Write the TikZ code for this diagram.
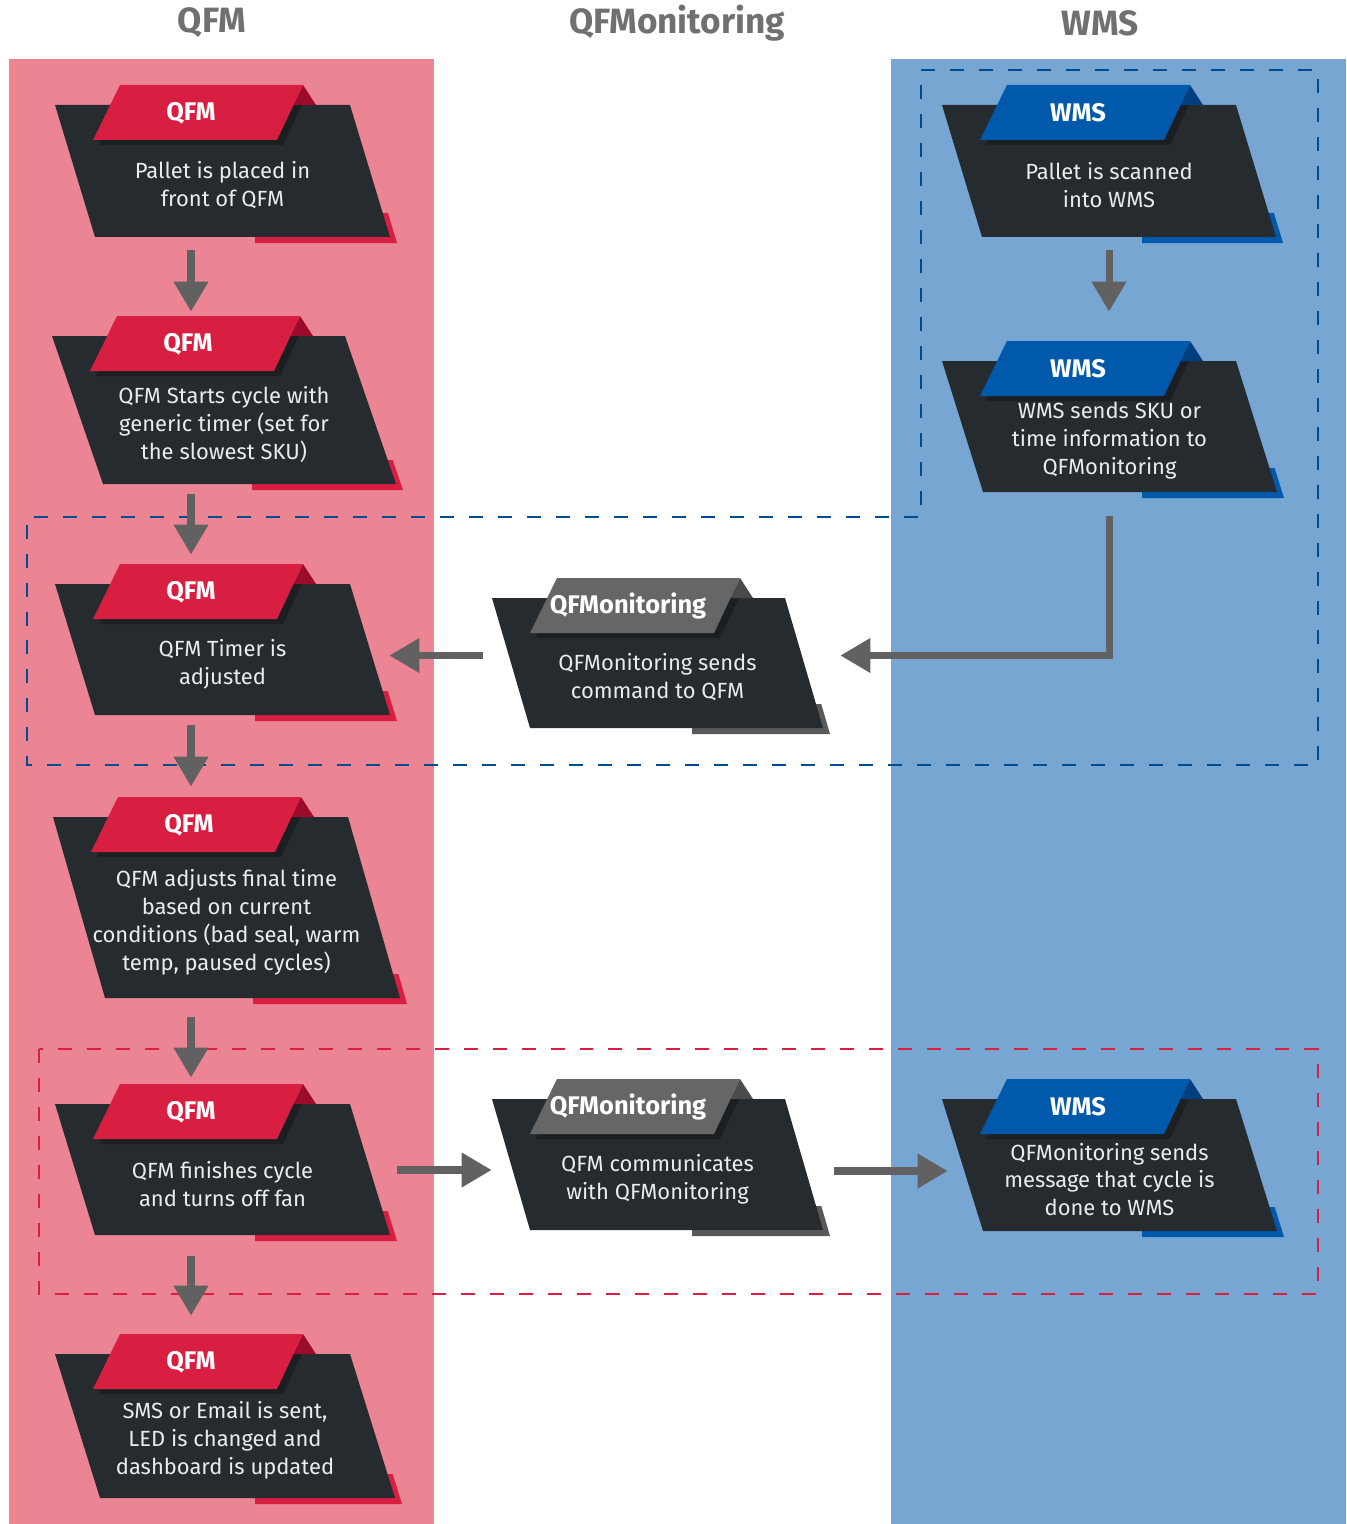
\documentclass[tikz,border=0pt]{standalone}
\usepackage{fontspec}
\setmainfont{Fira Sans}
\usetikzlibrary{arrows.meta}

\definecolor{qfmlane}{HTML}{EC8593}
\definecolor{wmslane}{HTML}{77A6D3}
\definecolor{boxdark}{HTML}{262B2F}
\definecolor{tagshade}{HTML}{1C1F22}
\definecolor{qfmTag}{HTML}{D81E41}
\definecolor{qfmFold}{HTML}{9C0B2B}
\definecolor{qfmEdge}{HTML}{D81E41}
\definecolor{wmsTag}{HTML}{0059AB}
\definecolor{wmsFold}{HTML}{003F7F}
\definecolor{wmsEdge}{HTML}{0059AB}
\definecolor{monTag}{HTML}{666666}
\definecolor{monFold}{HTML}{4A4A4A}
\definecolor{monEdge}{HTML}{595959}
\definecolor{arrowgrey}{HTML}{616161}
\definecolor{headgrey}{HTML}{707070}

\tikzset{
  headtext/.style={font=\bfseries\fontsize{20}{24}\selectfont, text=headgrey},
  tagtext/.style={font=\bfseries\fontsize{14.5}{17}\selectfont, text=white, inner sep=0pt},
  bodytext/.style={font=\fontsize{12.5}{15.9}\selectfont, text=white!92!black, align=center, inner sep=0pt},
  frame/.style={inner sep=0pt, draw=none},
  flow/.style={draw=arrowgrey, line width=4pt, -{Triangle[width=0.66cm,length=0.6cm]}},
  bluedash/.style={draw=wmsTag!85!black, line width=1.1pt, dash pattern=on 0.28cm off 0.3cm},
  reddash/.style={draw=qfmTag, line width=1.1pt, dash pattern=on 0.28cm off 0.3cm}
}

% #1 name, #2 left, #3 top, #4 width, #5 height, #6 slant, #7 colour set, #8 tag, #9 text
\newcommand{\flowbox}[9]{%
  \pgfmathsetmacro\fbB{#3+#5}
  \pgfmathsetmacro\fbR{#2+#4}
  \pgfmathsetmacro\fbBR{#2+#4+#6}
  \pgfmathsetmacro\fbBL{#2+#6}
  \pgfmathsetmacro\fbSR{#2+#4+#6+7}
  \pgfmathsetmacro\fbSRt{#2+#4+#6+7-#6/#5*30}
  \pgfmathsetmacro\fbTX{(#4+#6)/2+#2}
  \pgfmathsetmacro\fbTY{(#5+35)/2+#3-3}
  \pgfmathsetmacro\fbFX{(#4+#6+7)/2+#2}
  \pgfmathsetmacro\fbFY{(#5+27)/2+#3-21}
  % coloured edge under the box
  \fill[#7Edge] (#2+200,\fbB+6) -- (\fbSR,\fbB+6) -- (\fbSRt,\fbB-24) -- (#2+200,\fbB-24) -- cycle;
  \fill[boxdark] (#2,#3) -- (\fbR,#3) -- (\fbBR,\fbB) -- (\fbBL,\fbB) -- cycle;
  % tag with its shade and fold
  \fill[tagshade] (#2+44,#3+40) -- (#2+228,#3+40) -- (#2+247,#3) -- (#2+60,#3) -- cycle;
  \fill[#7Fold] (#2+248,#3-20) -- (#2+261,#3) -- (#2+238,#3) -- cycle;
  \fill[#7Tag] (#2+65,#3-20) -- (#2+248,#3-20) -- (#2+222,#3+35) -- (#2+38,#3+35) -- cycle;
  \node[tagtext] (#1t) at (#2+136,#3+8) {#8};
  \node[bodytext] (#1b) at (\fbTX,\fbTY) {#9};
  \node[frame, minimum width={(#4+#6+7)*0.02cm}, minimum height={(#5+27)*0.02cm}] (#1) at (\fbFX,\fbFY) {};
}

\begin{document}
\begin{tikzpicture}[x=0.02cm,y=-0.02cm]
  \useasboundingbox[fill=white] (0,0) rectangle (1346,1524);

  % lanes
  \fill[qfmlane] (9,59) rectangle (434,1524);
  \fill[wmslane] (891,59) rectangle (1346,1524);
  \node[headtext] (hqfm) at (212,23) {QFM};
  \node[headtext] (hmon) at (677,23) {QFMonitoring};
  \node[headtext] (hwms) at (1100,23) {WMS};

  % groups
  \draw[bluedash] (921,70) -- (1318,70) -- (1318,765) -- (27,765) -- (27,517) -- (921,517) -- cycle;
  \draw[reddash] (39,1049) rectangle (1318,1294);

  % QFM lane
  \flowbox{q1}{55}{105}{295}{132}{40}{qfm}{QFM}{Pallet is placed in\\front of QFM}
  \flowbox{q2}{52}{336}{293}{148}{51}{qfm}{QFM}{QFM Starts cycle with\\generic timer (set for\\the slowest SKU)}
  \flowbox{q3}{55}{584}{295}{131}{40}{qfm}{QFM}{QFM Timer is\\adjusted}
  \flowbox{q4}{53}{817}{295}{181}{52}{qfm}{QFM}{QFM adjusts final time\\based on current\\conditions (bad seal, warm\\temp, paused cycles)}
  \flowbox{q5}{55}{1104}{295}{131}{40}{qfm}{QFM}{QFM finishes cycle\\and turns off fan}
  \flowbox{q6}{55}{1354}{295}{144}{45}{qfm}{QFM}{SMS or Email is sent,\\LED is changed and\\dashboard is updated}

  % QFMonitoring lane
  \flowbox{m1}{492}{598}{293}{130}{38}{mon}{QFMonitoring}{QFMonitoring sends\\command to QFM}
  \flowbox{m2}{492}{1099}{293}{131}{38}{mon}{QFMonitoring}{QFM communicates\\with QFMonitoring}

  % WMS lane
  \flowbox{w1}{942}{105}{294}{132}{40}{wms}{WMS}{Pallet is scanned\\into WMS}
  \flowbox{w2}{942}{361}{294}{131}{41}{wms}{WMS}{WMS sends SKU or\\time information to\\QFMonitoring}
  \flowbox{w3}{942}{1099}{294}{132}{41}{wms}{WMS}{QFMonitoring sends\\message that cycle is\\done to WMS}

  % arrows
  \draw[flow, shorten <=0.14cm, shorten >=0.06cm] (q1.south -| q1t) -- (q2.north -| q1t);
  \draw[flow, shorten <=0.08cm, shorten >=0.16cm] (q2.south -| q1t) -- (q3.north -| q1t);
  \draw[flow, shorten <=0.08cm, shorten >=0.18cm] (q3.south -| q1t) -- (q4.north -| q1t);
  \draw[flow, shorten <=0.26cm, shorten >=0.1cm] (q4.south -| q1t) -- (q5.north -| q1t);
  \draw[flow, shorten <=0.3cm, shorten >=0.34cm] (q5.south -| q1t) -- (q6.north -| q1t);
  \draw[flow, shorten <=0.14cm, shorten >=0.56cm] (w1.south -| w1b) -- (w2.north -| w1b);
  \draw[flow, shorten <=0.36cm, shorten >=0.2cm] (w2.south -| w2b) |- (m1.east);
  \draw[flow, shorten <=0.18cm, shorten >=-0.16cm] (m1.west) -- (m1.west -| q3.east);
  \draw[flow] ([yshift=-0.16cm]q5.east) -- ([yshift=-0.16cm]q5.east -| m2.west);
  \draw[flow, shorten <=0.08cm, shorten >=-0.12cm] ([yshift=-0.28cm]m2.east) -- ([yshift=-0.28cm]m2.east -| w3.west);
\end{tikzpicture}
\end{document}
